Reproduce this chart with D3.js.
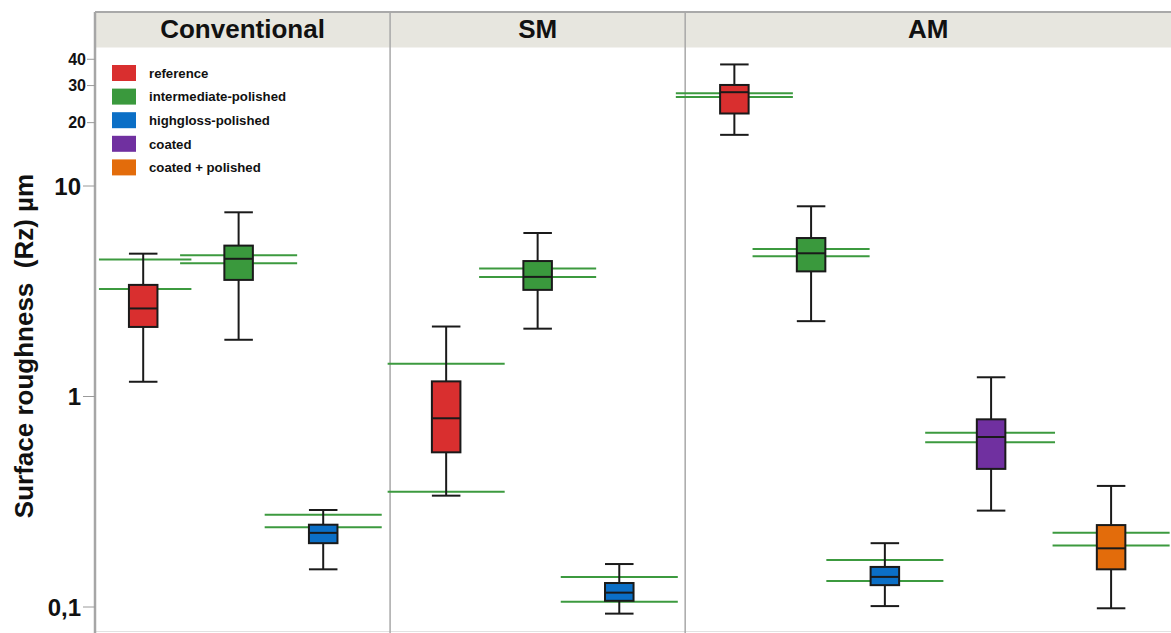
<!DOCTYPE html>
<html>
<head>
<meta charset="utf-8">
<script src="https://cdn.jsdelivr.net/npm/d3@7"></script>
<style>
  body { margin: 0; background: #fff; }
  svg { display: block; font-family: 'Liberation Sans', Arial, sans-serif; }
</style>
</head>
<body>
<div id="chart"></div>
<script>
// process groups and the x-domain slots each one occupies
const processes = ['Conventional', 'SM', 'AM'];
const processSlots = [[0, 3], [3, 6], [6, 11]];

const treatments = ['reference', 'intermediate-polished', 'highgloss-polished', 'coated', 'coated + polished'];
const treatmentColors = ['#d92f2f', '#3a993d', '#0b6fc6', '#7030a0', '#e36c0b'];

// one entry per box
const boxProcess   = ['Conventional', 'Conventional', 'Conventional', 'SM', 'SM', 'SM', 'AM', 'AM', 'AM', 'AM', 'AM'];
const boxTreatment = ['reference', 'intermediate-polished', 'highgloss-polished',
                      'reference', 'intermediate-polished', 'highgloss-polished',
                      'reference', 'intermediate-polished', 'highgloss-polished', 'coated', 'coated + polished'];
const boxSlot      = [0.49, 1.46, 2.32, 3.57, 4.50, 5.33, 6.50, 7.28, 8.03, 9.11, 10.33];
const whiskerLow   = [1.175, 1.86, 0.151, 0.338, 2.10, 0.093, 17.5, 2.28, 0.101, 0.287, 0.0986];
const quartile1    = [2.14, 3.58, 0.201, 0.543, 3.21, 0.107, 22.1, 3.93, 0.127, 0.453, 0.151];
const median       = [2.62, 4.51, 0.225, 0.788, 3.70, 0.117, 27.9, 4.79, 0.139, 0.642, 0.190];
const quartile3    = [3.39, 5.21, 0.246, 1.18, 4.40, 0.130, 30.2, 5.66, 0.155, 0.779, 0.245];
const whiskerHigh  = [4.77, 7.50, 0.289, 2.15, 5.98, 0.160, 37.8, 8.01, 0.201, 1.234, 0.376];
const limitHigh    = [4.48, 4.69, 0.274, 1.43, 4.06, 0.139, 27.6, 5.02, 0.167, 0.673, 0.225];
const limitLow     = [3.24, 4.29, 0.239, 0.353, 3.70, 0.106, 26.5, 4.64, 0.133, 0.606, 0.196];

const majorTicks = [0.1, 1, 10];
const minorTicks = [20, 30, 40];
const tickLabel = (d) => (d < 1 ? String(d).replace('.', ',') : String(d));

const WIDTH = 1171;
const HEIGHT = 633;
const PLOT = { LEFT: 95, RIGHT: 1177, TOP: 12, HEADER: 47.5, BOTTOM: 633 };
const BOX_WIDTH = 0.29;
const LIMIT_HALF = 0.595;
// a couple of limit lines are drawn narrower / wider than the rest
const LIMIT_SPAN_OVERRIDE = { 0: [0.04, 0.98], 9: [8.44, 9.76] };

const svg = d3.select('#chart')
  .append('svg')
  .attr('width', WIDTH)
  .attr('height', HEIGHT);

const x = d3.scaleLinear([0, 11], [PLOT.LEFT, PLOT.RIGHT]);
const y = d3.scaleLog([0.1, 10], [607, 186]);

const boxes = boxSlot.map((slot, i) => Object({
  process: boxProcess[i],
  treatment: boxTreatment[i],
  slot,
  low: whiskerLow[i],
  q1: quartile1[i],
  median: median[i],
  q3: quartile3[i],
  high: whiskerHigh[i],
  limits: [limitHigh[i], limitLow[i]],
  span: LIMIT_SPAN_OVERRIDE[i] || [slot - LIMIT_HALF, slot + LIMIT_HALF],
}));

const color = d3.scaleOrdinal(treatments, treatmentColors);

const createFrame = (g) => {
  g.append('rect')
    .attr('x', PLOT.LEFT)
    .attr('y', PLOT.TOP)
    .attr('width', WIDTH - PLOT.LEFT)
    .attr('height', PLOT.HEADER - PLOT.TOP)
    .attr('fill', '#e7e6df');

  g.append('line')
    .attr('x1', PLOT.LEFT).attr('x2', WIDTH)
    .attr('y1', PLOT.TOP).attr('y2', PLOT.TOP)
    .attr('stroke', '#a9a9a9').attr('stroke-width', 2);

  g.append('line')
    .attr('x1', PLOT.LEFT).attr('x2', WIDTH)
    .attr('y1', HEIGHT - 1.5).attr('y2', HEIGHT - 1.5)
    .attr('stroke', '#e2e2e2').attr('stroke-width', 1);

  g.selectAll('.divider')
    .data(processSlots.slice(1))
    .join('line')
    .attr('class', 'divider')
    .attr('x1', (d) => x(d[0])).attr('x2', (d) => x(d[0]))
    .attr('y1', PLOT.TOP).attr('y2', PLOT.BOTTOM)
    .attr('stroke', '#a8a8a8').attr('stroke-width', 1.5);

  g.selectAll('.header')
    .data(processes)
    .join('text')
    .attr('class', 'header')
    .attr('x', (d, i) => x((processSlots[i][0] + Math.min(processSlots[i][1], 10.94)) / 2))
    .attr('y', 38)
    .attr('text-anchor', 'middle')
    .style('font-size', '26px')
    .style('font-weight', 'bold')
    .attr('fill', '#111')
    .text((d) => d);
};

const createAxis = (g) => {
  const axisG = g.append('g');

  axisG.append('line')
    .attr('x1', PLOT.LEFT).attr('x2', PLOT.LEFT)
    .attr('y1', PLOT.TOP).attr('y2', PLOT.BOTTOM)
    .attr('stroke', '#a6a6a6').attr('stroke-width', 2.5);

  const ticks = majorTicks.map((v) => ({ v, major: true }))
    .concat(minorTicks.map((v) => ({ v, major: false })));

  axisG.selectAll('.tick')
    .data(ticks)
    .join('line')
    .attr('class', 'tick')
    .attr('x1', (d) => PLOT.LEFT - (d.major ? 12 : 8))
    .attr('x2', PLOT.LEFT)
    .attr('y1', (d) => y(d.v)).attr('y2', (d) => y(d.v))
    .attr('stroke', '#9a9a9a').attr('stroke-width', 1);

  axisG.selectAll('.tick-label')
    .data(ticks)
    .join('text')
    .attr('class', 'tick-label')
    .attr('x', (d) => PLOT.LEFT - (d.major ? 14 : 9))
    .attr('y', (d) => y(d.v))
    .attr('dy', '0.36em')
    .attr('text-anchor', 'end')
    .style('font-size', (d) => (d.major ? '24px' : '16px'))
    .style('font-weight', 'bold')
    .attr('fill', '#111')
    .text((d) => tickLabel(d.v));

  axisG.append('text')
    .attr('transform', 'rotate(-90)')
    .attr('x', -346)
    .attr('y', 33)
    .attr('text-anchor', 'middle')
    .style('font-size', '26px')
    .style('font-weight', 'bold')
    .style('white-space', 'pre')
    .attr('fill', '#111')
    .text('Surface roughness  (Rz) µm');
};

const createLegend = (g) => {
  const rows = g.append('g')
    .attr('transform', 'translate(112, 65)')
    .selectAll('g')
    .data(treatments)
    .join('g')
    .attr('transform', (d, i) => `translate(0, ${i * 23.6})`);

  rows.append('rect')
    .attr('width', 24)
    .attr('height', 16)
    .attr('fill', (d) => color(d));

  rows.append('text')
    .attr('x', 37)
    .attr('y', 8)
    .attr('dy', '0.36em')
    .style('font-size', '13.2px')
    .style('font-weight', 'bold')
    .attr('fill', '#111')
    .text((d) => d);
};

const createBoxes = (g) => {
  const half = (x(BOX_WIDTH) - x(0)) / 2;

  // green limit lines sit behind the boxes
  g.selectAll('.limit')
    .data(boxes.flatMap((d) => d.limits.map((v) => ({ v, span: d.span }))))
    .join('line')
    .attr('class', 'limit')
    .attr('x1', (d) => x(d.span[0])).attr('x2', (d) => x(d.span[1]))
    .attr('y1', (d) => y(d.v)).attr('y2', (d) => y(d.v))
    .attr('stroke', '#3c9a3f').attr('stroke-width', 2);

  const box = g.selectAll('.box')
    .data(boxes)
    .join('g')
    .attr('class', 'box');

  box.append('line')
    .attr('x1', (d) => x(d.slot)).attr('x2', (d) => x(d.slot))
    .attr('y1', (d) => y(d.low)).attr('y2', (d) => y(d.high))
    .attr('stroke', '#1a1a1a').attr('stroke-width', 2);

  box.selectAll('.cap')
    .data((d) => [d.low, d.high].map((v) => ({ v, slot: d.slot })))
    .join('line')
    .attr('class', 'cap')
    .attr('x1', (d) => x(d.slot) - half).attr('x2', (d) => x(d.slot) + half)
    .attr('y1', (d) => y(d.v)).attr('y2', (d) => y(d.v))
    .attr('stroke', '#1a1a1a').attr('stroke-width', 2);

  box.append('rect')
    .attr('x', (d) => x(d.slot) - half)
    .attr('y', (d) => y(d.q3))
    .attr('width', half * 2)
    .attr('height', (d) => y(d.q1) - y(d.q3))
    .attr('fill', (d) => color(d.treatment))
    .attr('stroke', '#1a1a1a').attr('stroke-width', 2);

  box.append('line')
    .attr('x1', (d) => x(d.slot) - half).attr('x2', (d) => x(d.slot) + half)
    .attr('y1', (d) => y(d.median)).attr('y2', (d) => y(d.median))
    .attr('stroke', '#1a1a1a').attr('stroke-width', 2);
};

createFrame(svg);
createAxis(svg);
createLegend(svg);
createBoxes(svg);
</script>
</body>
</html>
